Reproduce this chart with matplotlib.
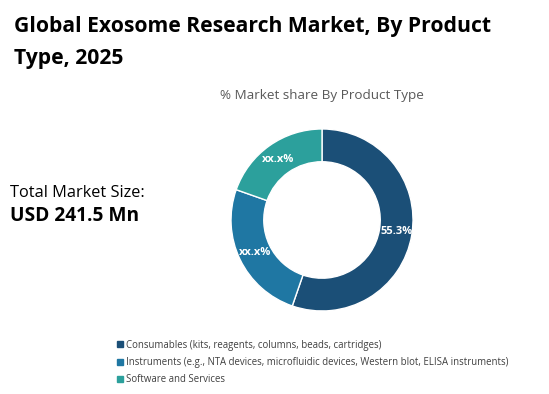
import matplotlib.pyplot as plt
from matplotlib.lines import Line2D

plt.rcParams['font.family'] = ['Open Sans', 'DejaVu Sans']

# data
segments = ['Consumables (kits, reagents, columns, beads, cartridges)',
            'Instruments (e.g., NTA devices, microfluidic devices, Western blot, ELISA instruments)',
            'Software and Services']
shares = [55.3, 25.1, 19.6]
labels = ['55.3%', 'xx.x%', 'xx.x%']
colors = ['#1b4f77', '#1f77a3', '#2ca09c']

fig = plt.figure(figsize=(5.49, 3.94), dpi=100)

fig.text(0.025, 0.96, 'Global Exosome Research Market, By Product\nType, 2025',
         fontsize=15.2, fontweight='bold', va='top', ha='left', linespacing=1.72)
fig.text(0.587, 0.758, '% Market share By Product Type', fontsize=9.7,
         color='#595959', ha='center', va='center')

fig.text(0.018, 0.51, 'Total Market Size:', fontsize=11.8, va='center', ha='left')
fig.text(0.018, 0.452, 'USD 241.5 Mn', fontsize=13.8, fontweight='bold', va='center', ha='left')

# donut
ax = fig.add_axes([0.4208, 0.2107, 0.3315, 0.462])
wedges, _ = ax.pie(shares, colors=colors, startangle=90, counterclock=False,
                   wedgeprops=dict(width=0.36, edgecolor='white', linewidth=1))
ax.set_xlim(-1, 1)
ax.set_ylim(-1, 1)
ax.set_aspect('equal')

label_pos = [(0.82, -0.13), (-0.74, -0.36), (-0.48, 0.67)]
for (x, y), t in zip(label_pos, labels):
    ax.text(x, y, t, color='white', fontsize=8, fontweight='bold',
            ha='center', va='center')

# legend
handles = [Line2D([0], [0], marker='s', linestyle='', markersize=4,
                  markerfacecolor=c, markeredgecolor=c) for c in colors]
fig.legend(handles, segments, loc='upper left', bbox_to_anchor=(0.206, 0.148),
           frameon=False, fontsize=6.95, handlelength=0.6, handletextpad=0.3,
           labelspacing=0.66, labelcolor='#404040', borderaxespad=0)

plt.savefig('out.png', dpi=100)
plt.close()
